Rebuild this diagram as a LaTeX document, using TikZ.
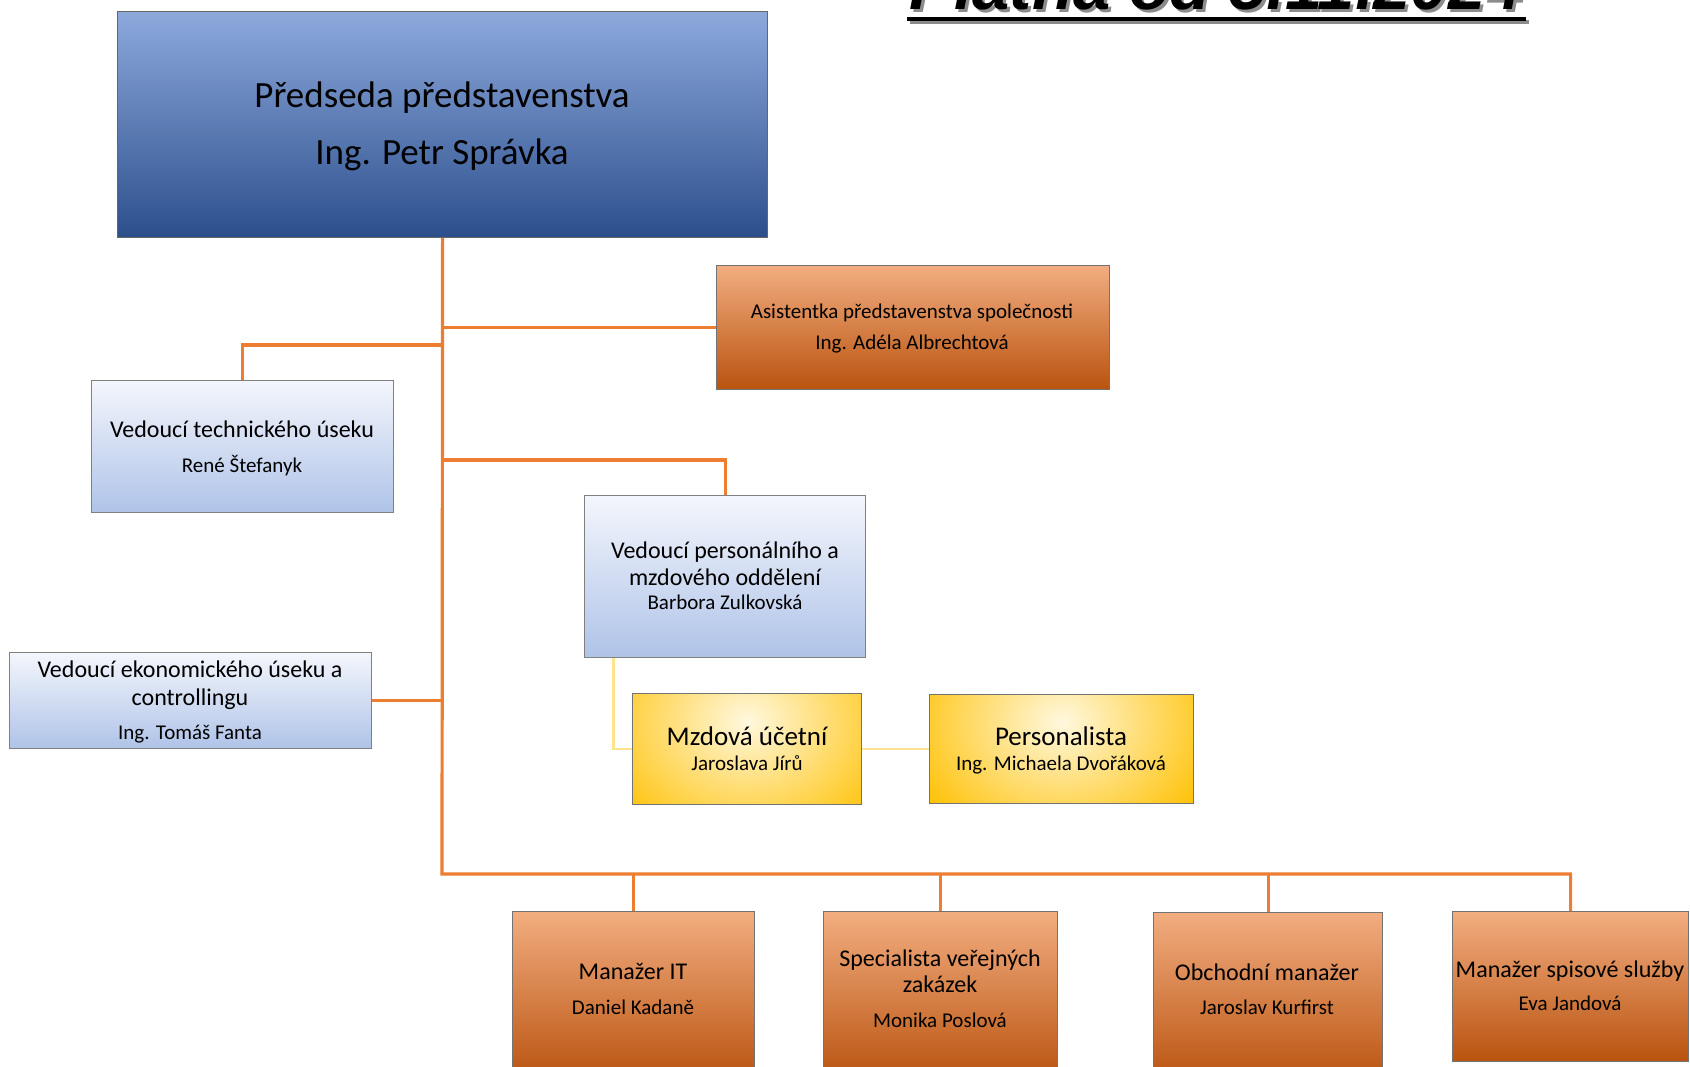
\documentclass[tikz,border=0pt]{standalone}
\usepackage{fontspec}
\setmainfont{Carlito}
\newfontfamily\titlefont{Liberation Sans}
\definecolor{conorange}{HTML}{ED7D31}
\definecolor{conyellow}{HTML}{FFE38F}
\definecolor{btop}{HTML}{8DA9DC}
\definecolor{bmid}{HTML}{4472C4}
\definecolor{bbot}{HTML}{2C4F8C}
\definecolor{ltop}{HTML}{F4F6FC}
\definecolor{lmid}{HTML}{C6D3EE}
\definecolor{lbot}{HTML}{AFC3E8}
\definecolor{otop}{HTML}{F2AD80}
\definecolor{omid}{HTML}{EE7F35}
\definecolor{obot}{HTML}{B9530F}
\definecolor{ygold}{HTML}{FFC000}
\definecolor{ylight}{HTML}{FFF8DE}
\tikzset{
  boxbase/.style={draw=black!55, line width=1.2pt, rectangle, inner sep=0pt, anchor=north west},
  bluebox/.style={boxbase, draw=black!60, top color=btop, middle color=bmid, bottom color=bbot},
  lightbox/.style={boxbase, draw=black!50, top color=ltop, middle color=lmid, bottom color=lbot},
  orangebox/.style={boxbase, draw=black!55, top color=otop, middle color=omid, bottom color=obot},
  yellowbox/.style={boxbase, draw=black!55,
    path picture={
      \fill[ygold] (path picture bounding box.south west) rectangle (path picture bounding box.north east);
      \shade[inner color=ylight, outer color=ygold]
        ($(path picture bounding box.north)!0.25!(path picture bounding box.south)$) ellipse (170 and 140);
    }},
  conn/.style={draw=conorange, line width=3.2pt},
  yconn/.style={draw=conyellow, line width=2.6pt},
  tbig/.style={anchor=base, font=\fontsize{37}{44}\selectfont},
  tmid/.style={anchor=base, font=\fontsize{24}{28}\selectfont},
  tyel/.style={anchor=base, font=\fontsize{27}{32}\selectfont},
  tsm/.style={anchor=base, font=\fontsize{21}{25}\selectfont},
}
\usetikzlibrary{calc}
\begin{document}
\begin{tikzpicture}[x=1pt,y=-1pt]
\useasboundingbox (0,0) rectangle (1690,1067);

% title
\node[anchor=base, text=black!45, font=\titlefont\bfseries\itshape\fontsize{67}{70}\selectfont] (titleshadow) at (1219,13) {Platná od 5.11.2024};
\node[anchor=base, font=\titlefont\bfseries\itshape\fontsize{67}{70}\selectfont] (title) at (1216,10) {Platná od 5.11.2024};
\draw[black!45, line width=4pt] (910,22) -- (1529,22);
\draw[black, line width=4pt] (907,19) -- (1526,19);

% boxes
\node[bluebox, minimum width=650, minimum height=226] (top) at (117,11) {};
\node[orangebox, minimum width=393, minimum height=124] (asst) at (716,265) {};
\node[lightbox, minimum width=302, minimum height=132] (tech) at (91,380) {};
\node[lightbox, minimum width=281, minimum height=162] (pers) at (584,495) {};
\node[lightbox, minimum width=362, minimum height=96] (econ) at (9,652) {};
\node[yellowbox, minimum width=229, minimum height=111] (mzd) at (632,693) {};
\node[yellowbox, minimum width=264, minimum height=109] (prs) at (929,694) {};
\node[orangebox, minimum width=242, minimum height=170] (it) at (512,911) {};
\node[orangebox, minimum width=234, minimum height=170] (spec) at (823,911) {};
\node[orangebox, minimum width=229, minimum height=170] (obch) at (1153,912) {};
\node[orangebox, minimum width=236, minimum height=150] (spis) at (1452,911) {};

% connectors
\coordinate (busL) at (442,874);
\coordinate (j1) at (442,345);
\coordinate (j2) at (442,460);
\draw[conn] (top.south) -- (busL) -| (spis.north);
\draw[conn] (asst.west) -- (asst.west -| top.south);
\draw[conn] (tech.north) |- (j1);
\draw[conn] (j2) -| (pers.north);
\draw[conn] (econ.east) -- (econ.east -| j1);
\draw[conn] (it.north) -- (it.north |- busL);
\draw[conn] (spec.north) -- (spec.north |- busL);
\draw[conn] (obch.north) -- (obch.north |- busL);
\draw[yconn] ([xshift=-111.5]pers.south) |- (mzd.west);
\draw[yconn] (mzd.east) -- (prs.west);

% texts
\node[tbig] (topA) at (442,108) {Předseda představenstva};
\node[tbig] (topB) at (442,165) {Ing. Petr Správka};
\node[tsm] (asstA) at (912,319) {Asistentka představenstva společnosti};
\node[tsm] (asstB) at (912,350) {Ing. Adéla Albrechtová};
\node[tmid] (techA) at (242,437) {Vedoucí technického úseku};
\node[tsm] (techB) at (242,472) {René Štefanyk};
\node[tmid] (persA) at (725,558) {Vedoucí personálního a};
\node[tmid] (persB) at (725,585) {mzdového oddělení};
\node[tsm] (persC) at (725,609) {Barbora Zulkovská};
\node[tmid] (econA) at (190,677) {Vedoucí ekonomického úseku a};
\node[tmid] (econB) at (190,705) {controllingu};
\node[tsm] (econC) at (190,739) {Ing. Tomáš Fanta};
\node[tyel] (mzdA) at (747,745) {Mzdová účetní};
\node[tsm] (mzdB) at (747,770) {Jaroslava Jírů};
\node[tyel] (prsA) at (1061,745) {Personalista};
\node[tsm] (prsB) at (1061,770) {Ing. Michaela Dvořáková};
\node[tmid] (itA) at (633,979) {Manažer IT};
\node[tsm] (itB) at (633,1014) {Daniel Kadaně};
\node[tmid] (specA) at (940,966) {Specialista veřejných};
\node[tmid] (specB) at (940,992) {zakázek};
\node[tsm] (specC) at (940,1027) {Monika Poslová};
\node[tmid] (obchA) at (1267,980) {Obchodní manažer};
\node[tsm] (obchB) at (1267,1014) {Jaroslav Kurfirst};
\node[tmid] (spisA) at (1570,977) {Manažer spisové služby};
\node[tsm] (spisB) at (1570,1010) {Eva Jandová};
\end{tikzpicture}
\end{document}
